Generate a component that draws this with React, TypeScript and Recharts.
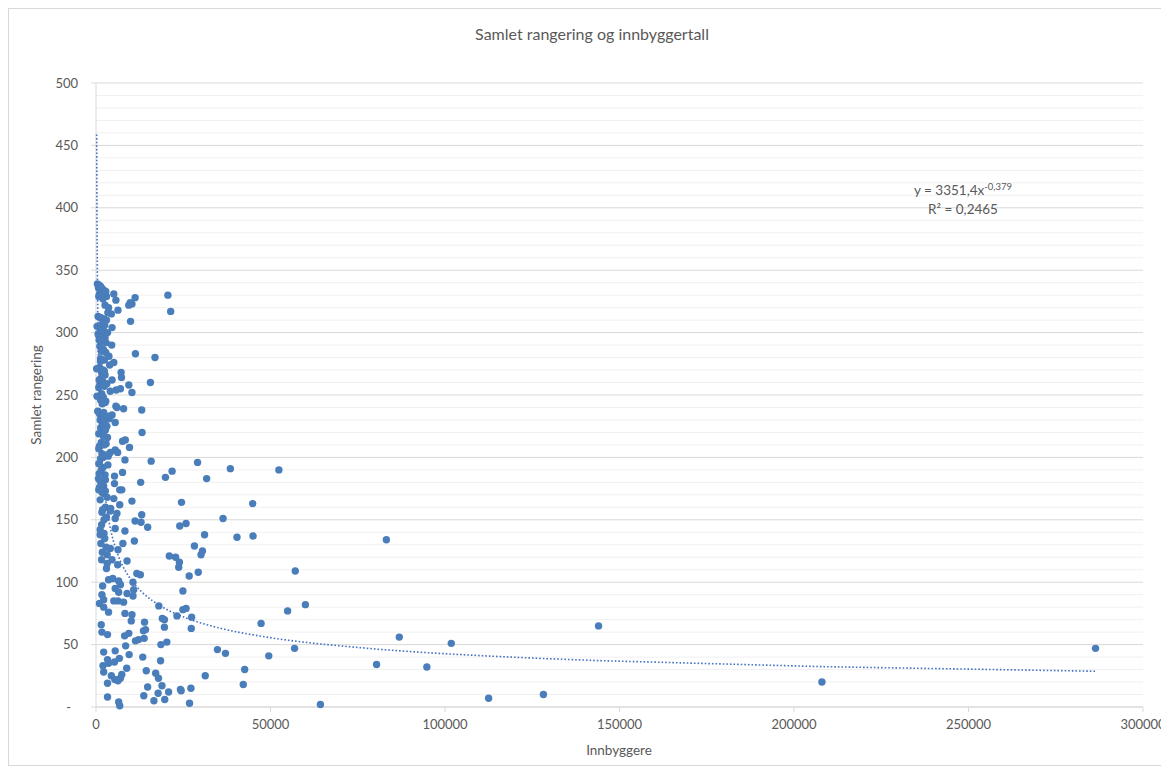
import React from "react"
import { ScatterChart, Scatter, XAxis, YAxis, CartesianGrid } from "recharts"

// innbyggere (x) og samlet rangering (y) per kommune, lest av figuren
const innbyggere = [
  400, 900, 1300, 700, 1800, 2200, 1600, 2600, 1000, 3000, 2000,
  5100, 20600, 11200, 5700, 9800, 10300, 9400, 2600, 3600, 6300, 21400, 4400, 600, 1400, 2300, 3000, 9900,
  1800, 2500, 300, 4600, 1200, 2000, 3300, 700, 1600, 2600, 900, 1900, 4500, 1100, 2200, 1500, 11300, 2800,
  16900, 1300, 2400, 5100, 3900, 1000, 190, 2000, 7200, 1700, 2600, 7300, 1400, 4600, 1900, 15600, 1100, 9400,
  2400, 800, 7000, 5800, 4100, 10300, 1600, 300, 2100, 1300, 2800, 1800, 5700, 6000, 7900, 13100, 2200, 1000,
  4600, 3500, 1600, 1200, 2500, 5500, 1900, 3100, 1400, 2700, 13200, 800, 2100, 3300, 8400, 7600, 1500, 2900,
  2300, 9600, 800, 5500, 4100, 6200, 1700, 3000, 2000, 1300, 8300, 15800, 29100, 800, 3400, 38500, 52400, 1500,
  21800, 7600, 900, 2600, 5300, 19900, 31700, 2700, 1200, 12800, 5300, 1700, 2200, 1000, 7400, 800, 6800, 1700,
  2200, 3200, 5100, 10300, 24500, 44900, 6800, 2700, 1900, 4100, 1700, 6000, 13100, 3000, 5500, 36400, 2300,
  11200, 12900, 25800, 24000, 5500, 14800, 1200, 8300, 2300, 1200, 31100, 45000, 40400, 83200, 11000, 7700,
  1400, 28200, 2900, 4100, 6300, 30500, 1800, 30100, 3200, 21000, 22800, 8900, 4600, 1600, 23900, 6200, 23700,
  3000, 57100, 29300, 11700, 12700, 26700, 4800, 3600, 6500, 10600, 7000, 1900, 5500, 10800, 24900, 6500, 8900,
  1700, 10600, 2200, 5100, 6300, 7900, 1000, 60000, 18000, 2200, 25800, 24900, 54900, 3600, 8300, 10300, 23200,
  27400, 19000, 19600, 10100, 13900, 47300, 1500, 144000, 19600, 27300, 14200, 13600, 1700, 9400, 3300, 8200,
  86900, 13800, 12200, 11300, 20300, 101800, 18600, 8500, 286400, 56900, 34800, 5500, 2200, 37100, 9500, 49500,
  13400, 6700, 3300, 18500, 5300, 3600, 80400, 2000, 94800, 8800, 42600, 14400, 2200, 17100, 7400, 31300, 4400,
  17900, 7000, 5400, 6300, 208000, 3300, 42200, 18900, 14800, 27200, 24200, 24400, 20800, 17800, 128200, 13700,
  3300, 112500, 19700, 16600, 6500, 26800, 64300, 6800,
  1500, 2800, 800, 3400, 1100, 2100, 600, 2900, 1800, 3700, 1300, 2400, 900, 3100, 1700,
  2600, 500, 3800, 1400, 2300, 1000, 3500, 2000, 700, 2700, 1200, 4200, 1600, 2500, 3200,
]
const rangering = [
  339, 338, 337, 336, 335, 334, 333, 332, 331, 329, 327,
  331, 330, 328, 326, 324, 323, 322, 322, 320, 318, 317, 315, 313, 312, 311, 310, 309,
  307, 306, 305, 304, 303, 301, 300, 298, 297, 296, 294, 293, 290, 289, 286, 285, 283, 284,
  280, 279, 278, 276, 274, 272, 271, 270, 268, 267, 266, 264, 263, 262, 261, 260, 258, 258,
  257, 256, 255, 254, 253, 252, 251, 249, 248, 246, 245, 243, 241, 240, 239, 238, 236, 235,
  234, 233, 232, 230, 229, 228, 226, 225, 223, 222, 220, 219, 218, 216, 214, 213, 212, 211,
  210, 208, 207, 206, 204, 204, 203, 202, 200, 199, 198, 197, 196, 195, 194, 191, 190, 190,
  189, 188, 187, 186, 185, 184, 183, 182, 181, 180, 179, 178, 177, 176, 174, 174, 174, 172,
  171, 168, 167, 165, 164, 163, 162, 160, 158, 157, 156, 155, 154, 152, 151, 151, 150,
  149, 148, 147, 145, 143, 144, 142, 141, 139, 138, 138, 137, 136, 134, 133, 131,
  131, 129, 128, 127, 126, 125, 124, 122, 122, 121, 120, 117, 118, 118, 116, 114, 112,
  111, 109, 108, 107, 106, 105, 103, 102, 101, 100, 98, 97, 95, 94, 93, 92, 91,
  90, 89, 86, 85, 85, 84, 83, 82, 81, 80, 79, 78, 77, 76, 75, 74, 73,
  72, 71, 70, 69, 68, 67, 66, 65, 64, 63, 62, 61, 60, 59, 58, 57,
  56, 55, 54, 53, 52, 51, 50, 49, 47, 47, 46, 45, 44, 43, 42, 41,
  40, 39, 38, 37, 36, 35, 34, 33, 32, 31, 30, 29, 28, 27, 26, 25, 25,
  23, 23, 22, 21, 20, 19, 18, 17, 16, 15, 14, 13, 12, 11, 10, 9,
  8, 7, 6, 5, 4, 3, 2, 1,
  336, 333, 329, 316, 312, 302, 299, 292, 287, 281, 277, 269, 262, 259, 250,
  244, 237, 231, 224, 217, 209, 201, 192, 183, 173, 166, 159, 146, 135, 115,
]

const X_TICKS = [0, 50000, 100000, 150000, 200000, 250000, 300000]
const Y_MAX = 500
const Y_TICKS = [0, 50, 100, 150, 200, 250, 300, 350, 400, 450, 500]
const Y_MINOR = [10, 20, 30, 40, 60, 70, 80, 90, 110, 120, 130, 140, 160, 170, 180, 190, 210, 220, 230, 240,
  260, 270, 280, 290, 310, 320, 330, 340, 360, 370, 380, 390, 410, 420, 430, 440, 460, 470, 480, 490]

// potens-trendlinje som vist i figuren: y = 3351,4x^-0,379
const TREND_A = 3351.4
const TREND_B = -0.379

const points = innbyggere.map((x, i) => ({ x, y: rangering[i] }))
const trend = Array.from(new Set(innbyggere))
  .sort((a, b) => a - b)
  .map((x) => ({ x, y: TREND_A * Math.pow(x, TREND_B) }))

const BLUE = "#4A7EBB"
const TEXT = "#595959"
const AXIS = "#d9d9d9"

const YTick = (props: any) => {
  const { x, y, payload } = props
  const zero = payload.value === 0
  return (
    <text x={zero ? x - 7 : x} y={y} dy={4.5} textAnchor="end" fill={TEXT} fontSize={13}>
      {zero ? "-" : payload.value}
    </text>
  )
}

const Dot = (props: any) => <circle cx={props.cx} cy={props.cy} r={3.7} fill={BLUE} />

// hjelpelinjer for hver 10. plass
const minorLines = ({ offset }: any) =>
  Y_MINOR.map((v) => offset.top + offset.height * (1 - v / Y_MAX))

export default function App() {
  return (
    <div
      style={{
        position: "relative",
        width: 1157,
        height: 756,
        border: "1px solid #d9d9d9",
        background: "#fff",
        fontFamily: "Lato, 'Liberation Sans', sans-serif",
        color: TEXT,
      }}
    >
      <ScatterChart width={1157} height={756} margin={{ top: 74, right: 23, left: 27, bottom: 18 }}>
        <CartesianGrid vertical={false} stroke="#f0f0f0" horizontalCoordinatesGenerator={minorLines} />
        <CartesianGrid vertical={false} stroke={AXIS} />
        <XAxis
          type="number"
          dataKey="x"
          domain={[0, 300000]}
          ticks={X_TICKS}
          height={40}
          stroke={AXIS}
          tickSize={5}
          tickMargin={8}
          tick={{ fill: TEXT, fontSize: 13 }}
        />
        <YAxis
          type="number"
          dataKey="y"
          domain={[0, Y_MAX]}
          ticks={Y_TICKS}
          width={60}
          stroke={AXIS}
          tickSize={5}
          tickMargin={13}
          tick={<YTick />}
        />
        <Scatter data={points} shape={<Dot />} isAnimationActive={false} />
        <Scatter
          data={trend}
          line={{ stroke: "#4472C4", strokeWidth: 1.6, strokeDasharray: "1.6 2" }}
          lineType="joint"
          shape={() => <g />}
          isAnimationActive={false}
        />
      </ScatterChart>

      <div style={{ position: "absolute", left: 583, top: 24, transform: "translate(-50%, -50%)", fontSize: 16, whiteSpace: "nowrap" }}>
        Samlet rangering og innbyggertall
      </div>
      <div
        style={{
          position: "absolute",
          left: 27,
          top: 386,
          transform: "translate(-50%, -50%) rotate(-90deg)",
          fontSize: 13.5,
          whiteSpace: "nowrap",
        }}
      >
        Samlet rangering
      </div>
      <div style={{ position: "absolute", left: 610, top: 741, transform: "translate(-50%, -50%)", fontSize: 13.5, whiteSpace: "nowrap" }}>
        Innbyggere
      </div>
      <div
        style={{
          position: "absolute",
          left: 954,
          top: 172,
          transform: "translateX(-50%)",
          fontSize: 13.5,
          lineHeight: "19px",
          textAlign: "center",
          whiteSpace: "nowrap",
        }}
      >
        <div>
          y = 3351,4x<sup style={{ fontSize: 9.5, verticalAlign: "5px", lineHeight: 0 }}>-0,379</sup>
        </div>
        <div>R² = 0,2465</div>
      </div>
    </div>
  )
}
